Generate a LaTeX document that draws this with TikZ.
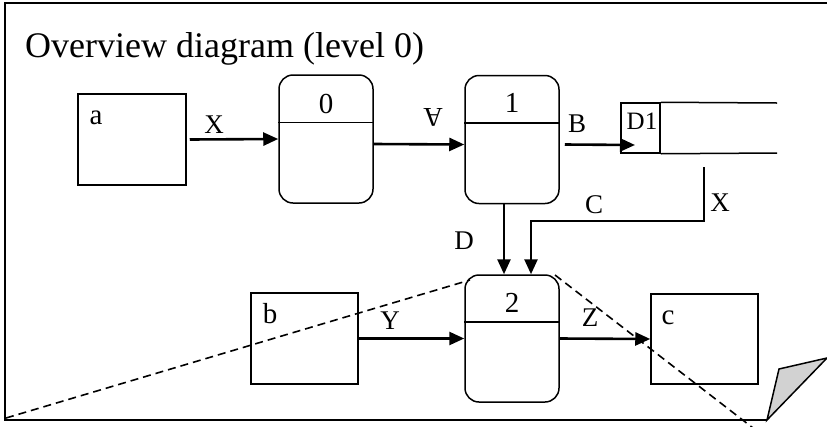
\documentclass[tikz,border=0pt]{standalone}
\usepackage{fontspec}
\setmainfont{Liberation Serif}
\usetikzlibrary{arrows.meta}
\begin{document}
\begin{tikzpicture}[x=1pt,y=-1pt,
  ent/.style={draw,line width=1.5pt,inner sep=0pt,minimum width=107pt,minimum height=91pt},
  proc/.style={draw,line width=1.5pt,rounded corners=14pt,inner sep=0pt,minimum width=94pt,minimum height=128pt},
  lbl/.style={inner sep=0pt,font=\fontsize{27}{27}\selectfont},
  biglbl/.style={inner sep=0pt,font=\fontsize{29}{29}\selectfont},
  flow/.style={line width=2.6pt,-{Triangle[length=15pt,width=13pt]}},
  thinline/.style={line width=1.5pt},
  dashline/.style={line width=1.6pt,dash pattern=on 8pt off 5pt}]
\useasboundingbox (0,0) rectangle (827,426);
% frame
\draw[line width=2pt] (827,3) -- (5,3) -- (5,420) -- (767,420);
\filldraw[fill=gray!35,line width=1.5pt,line join=miter] (767,420) -- (779,369) -- (827,358) -- cycle;
\node[anchor=base west,inner sep=0pt,font=\fontsize{36}{36}\selectfont] (title) at (25,57) {Overview diagram (level 0)};
% entities
\node[ent,minimum width=108pt] (a) at (132,139.5) {};
\node[ent] (b) at (304.5,338.5) {};
\node[ent,minimum height=90pt] (c) at (704.5,339) {};
\node[biglbl] (la) at (96,118) {a};
\node[biglbl] (lb) at (270,314) {b};
\node[biglbl] (lc) at (668,318) {c};
% processes
\node[proc] (p0) at (326,139) {};
\node[proc] (p1) at (512,139.5) {};
\node[proc,minimum height=127pt] (p2) at (512,338.5) {};
\foreach \p in {p0,p1,p2}{\draw[thinline] ([yshift=16.5pt]\p.west) -- ([yshift=16.5pt]\p.east);}
\node[biglbl] (l0) at (326,104) {0};
\node[biglbl] (l1) at (512,103) {1};
\node[biglbl] (l2) at (512,303) {2};
% data store
\node[draw,line width=1.5pt,inner sep=0pt,minimum width=39pt,minimum height=50pt] (d1) at (640.5,128) {};
\coordinate (d1end1) at (777,103);
\coordinate (d1end2) at (777,153);
\draw[thinline] (d1.north east) -- (d1end1);
\draw[thinline] (d1.south east) -- (d1end2);
\node[inner sep=0pt,font=\fontsize{25}{25}\selectfont] (ld1) at (642,121) {D1};
% flows
\draw[flow] ([xshift=3pt]a.east) -- (p0.west);
\node[lbl] (lx1) at (214,125) {X};
\draw[flow] ([yshift=-5pt]p0.east) -- ([yshift=-5pt]p1.west);
\node[lbl,rotate=180] (lfa) at (433,117) {A};
\coordinate (bin) at (635,145);
\draw[flow] ([xshift=5pt,yshift=-5pt]p1.east) -- (bin);
\node[lbl] (lbB) at (577,124) {B};
\draw[flow] ([xshift=-8pt]p1.south) -- ([xshift=-8pt]p2.north);
\node[lbl] (lD) at (464,241) {D};
\coordinate (xtop) at (704,167);
\coordinate (xcorner) at (704,221);
\draw[flow] (xtop) -- (xcorner) -| ([xshift=19pt]p2.north);
\node[lbl] (lC) at (594,205) {C};
\node[lbl] (lx2) at (720,203) {X};
\draw[flow] (b.east) -- (p2.west);
\node[lbl] (lY) at (390,321) {Y};
\draw[flow] (p2.east) -- (c.west);
\node[lbl] (lZ) at (590,318) {Z};
% dashed lines
\coordinate (dl1) at (6,418);
\coordinate (dl2) at (470,280);
\coordinate (dr1) at (555,275);
\coordinate (dr2) at (753,428);
\draw[dashline] (dl1) -- (dl2);
\draw[dashline] (dr1) -- (dr2);
\end{tikzpicture}
\end{document}
